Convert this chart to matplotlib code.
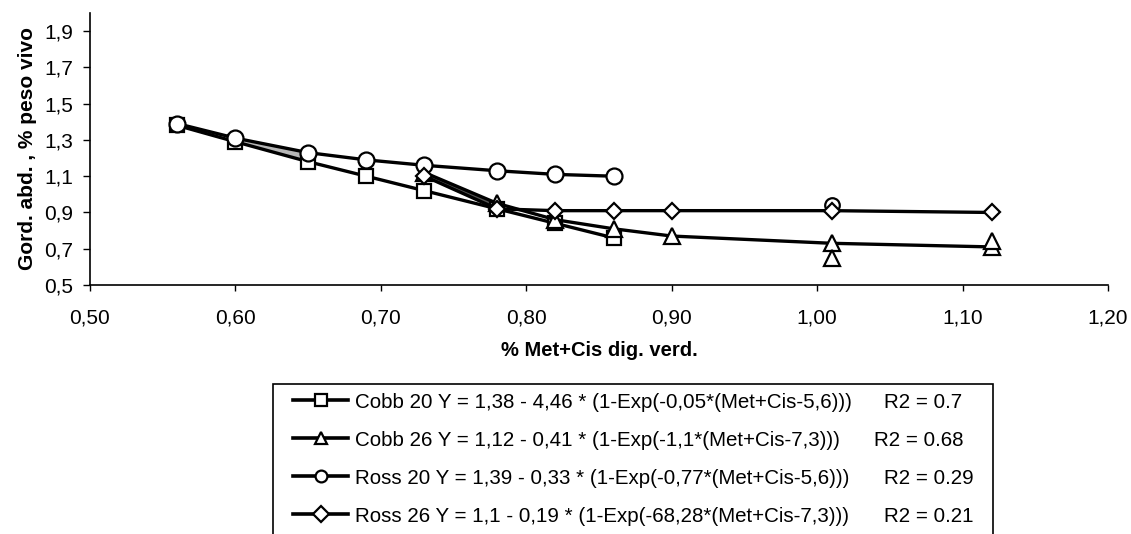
import matplotlib
matplotlib.use("Agg")
import matplotlib.pyplot as plt
from matplotlib import font_manager
from matplotlib.patches import Rectangle
from matplotlib.ticker import FixedLocator, FuncFormatter

# ---------------- data ----------------
x_cobb20 = [0.56, 0.60, 0.65, 0.69, 0.73, 0.78, 0.82, 0.86]
y_cobb20 = [1.38, 1.29, 1.18, 1.10, 1.02, 0.92, 0.84, 0.76]

x_cobb26 = [0.73, 0.78, 0.82, 0.86, 0.90, 1.01, 1.12]
y_cobb26 = [1.12, 0.95, 0.86, 0.81, 0.77, 0.73, 0.71]

x_ross20 = [0.56, 0.60, 0.65, 0.69, 0.73, 0.78, 0.82, 0.86]
y_ross20 = [1.39, 1.31, 1.23, 1.19, 1.16, 1.13, 1.11, 1.10]

x_ross26 = [0.73, 0.78, 0.82, 0.86, 0.90, 1.01, 1.12]
y_ross26 = [1.10, 0.92, 0.91, 0.91, 0.91, 0.91, 0.90]

# extra observed points off the fitted lines
x_obs_tri = [1.01, 1.12]
y_obs_tri = [0.65, 0.745]
x_obs_circ = [1.01]
y_obs_circ = [0.94]

legend_labels = [
    "Cobb 20 Y = 1,38 - 4,46 * (1-Exp(-0,05*(Met+Cis-5,6)))",
    "Cobb 26 Y = 1,12 - 0,41 * (1-Exp(-1,1*(Met+Cis-7,3)))",
    "Ross 20 Y = 1,39 - 0,33 * (1-Exp(-0,77*(Met+Cis-5,6)))",
    "Ross 26 Y = 1,1 - 0,19 * (1-Exp(-68,28*(Met+Cis-7,3)))",
]
r2_labels = ["R2 = 0.7", "R2 = 0.68", "R2 = 0.29", "R2 = 0.21"]
r2_x_px = [884, 874, 884, 884]

x_ticks = [0.50, 0.60, 0.70, 0.80, 0.90, 1.00, 1.10, 1.20]
y_ticks = [0.5, 0.7, 0.9, 1.1, 1.3, 1.5, 1.7, 1.9]

# ---------------- fonts ----------------
avail = {f.name for f in font_manager.fontManager.ttflist}
base_font = "Liberation Sans" if "Liberation Sans" in avail else "DejaVu Sans"
plt.rcParams["font.family"] = [base_font, "DejaVu Sans"]

W, H = 1131, 534
fig = plt.figure(figsize=(W / 100, H / 100), dpi=100)
ax = fig.add_axes([90 / W, 1 - 285 / H, (1108 - 90) / W, (285 - 13) / H])

# grey overlap shading seen in the source between nearly coincident lines
ax.fill_between([0.73, 0.78], [y_ross26[0], y_ross26[1]], [y_cobb26[0], y_cobb26[1]],
                color="#555555", lw=0, zorder=1)
ax.fill_between([0.60, 0.65], [y_cobb20[1], y_cobb20[2]], [y_ross20[1], y_ross20[2]],
                color="#888888", lw=0, zorder=1, alpha=0.6)

lw = 2.4
ms = 10.5
mew = 1.6
common = dict(color="black", lw=lw, mfc="white", mec="black", mew=mew, zorder=3)
l1, = ax.plot(x_cobb20, y_cobb20, marker="s", ms=ms, **common)
l2, = ax.plot(x_cobb26, y_cobb26, marker="^", ms=ms + 1, **common)
l3, = ax.plot(x_ross20, y_ross20, marker="o", ms=ms + 1, **common)
l4, = ax.plot(x_ross26, y_ross26, marker="D", ms=ms - 2, **common)
ax.plot(x_obs_tri, y_obs_tri, ls="none", marker="^", ms=ms + 1, mfc="white",
        mec="black", mew=mew, zorder=4)
ax.plot(x_obs_circ, y_obs_circ, ls="none", marker="o", ms=ms, mfc="white",
        mec="black", mew=mew, zorder=2)

ax.set_xlim(0.50, 1.20)
ax.set_ylim(0.5, 2.0)
ax.xaxis.set_major_locator(FixedLocator(x_ticks))
ax.yaxis.set_major_locator(FixedLocator(y_ticks))
ax.xaxis.set_major_formatter(FuncFormatter(lambda v, p: f"{v:.2f}".replace(".", ",")))
ax.yaxis.set_major_formatter(FuncFormatter(lambda v, p: f"{v:.1f}".replace(".", ",")))
for s in ["top", "right"]:
    ax.spines[s].set_visible(False)
for s in ["left", "bottom"]:
    ax.spines[s].set_linewidth(1.2)
ax.tick_params(axis="x", direction="out", length=4, width=1, pad=13, labelsize=15)
ax.tick_params(axis="y", direction="out", length=5, width=1, pad=7, labelsize=15)

ax.set_xlabel("% Met+Cis dig. verd.", fontsize=14.5, fontweight="bold", labelpad=10)
ax.set_ylabel("Gord. abd. , % peso vivo", fontsize=15, fontweight="bold", labelpad=5)

# legend frame (bottom edge is cut off in the source)
fig.patches.append(Rectangle((273 / W, -0.05), (993 - 273) / W, (1 - 384 / H) + 0.05,
                             transform=fig.transFigure, fill=False, ec="black", lw=1.2))

# legend font size so the first label is ~498 px wide like the source
probe = fig.text(0, 0, legend_labels[0], size=14, family=base_font)
fig.canvas.draw()
wpx = probe.get_window_extent().width
probe.remove()
leg_size = 14.0 * 498.0 / wpx
fs_px = leg_size * 100 / 72.0

target_first = 402.0   # px from top: centre of first row
target_step = 38.0     # px between rows
anchor_x = 293.0
anchor_top = 390.0
spacing = 0.8
leg = None
for it in range(3):
    if leg is not None:
        leg.remove()
    leg = fig.legend([l1, l2, l3, l4], legend_labels, loc="upper left",
                     bbox_to_anchor=(anchor_x / W, 1 - anchor_top / H), frameon=False,
                     prop=dict(size=leg_size, family=base_font),
                     handlelength=55.0 / fs_px, handletextpad=7.0 / fs_px,
                     labelspacing=spacing, borderpad=0, borderaxespad=0)
    for h in leg.legend_handles:
        h.set_markersize(8.5)
        h.set_linewidth(2.6)
    fig.canvas.draw()
    cents = []
    for t in leg.get_texts():
        bb = t.get_window_extent()
        cents.append(H - (bb.y0 + bb.y1) / 2)
    step = (cents[-1] - cents[0]) / 3.0
    spacing += (target_step - step) / fs_px
    anchor_top += target_first - cents[0]

inv = fig.transFigure.inverted()
for t, lab, xp in zip(leg.get_texts(), r2_labels, r2_x_px):
    bb = t.get_window_extent()
    yc = inv.transform(((bb.x0 + bb.x1) / 2, (bb.y0 + bb.y1) / 2))[1]
    fig.text(xp / W, yc, lab, ha="left", va="center", size=leg_size, family=base_font)

fig.savefig("out.png", dpi=100)
